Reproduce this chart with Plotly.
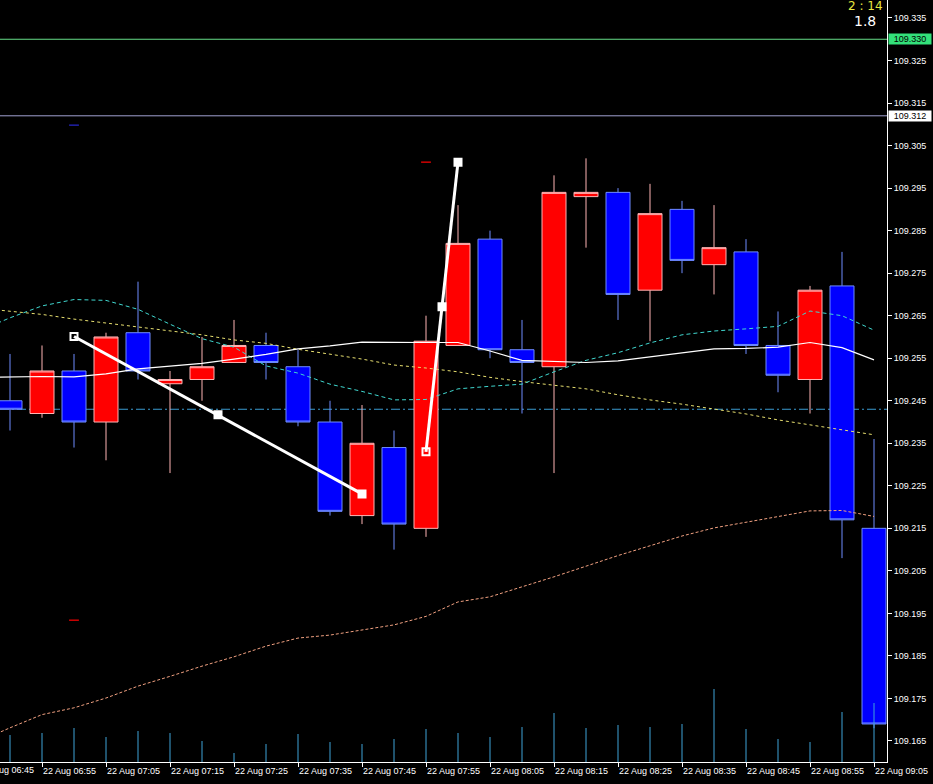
import plotly.graph_objects as go
import pandas as pd

DAY = "2017-08-22 "

# ---- candle data (5-minute bars) ----
times = ["06:50", "06:55", "07:00", "07:05", "07:10", "07:15", "07:20", "07:25",
         "07:30", "07:35", "07:40", "07:45", "07:50", "07:55", "08:00", "08:05",
         "08:10", "08:15", "08:20", "08:25", "08:30", "08:35", "08:40", "08:45",
         "08:50", "08:55", "09:00", "09:05"]
opens = [109.245, 109.242, 109.252, 109.240, 109.261, 109.249, 109.250, 109.254,
         109.258, 109.253, 109.240, 109.218, 109.234, 109.215, 109.258, 109.283,
         109.257, 109.253, 109.293, 109.294, 109.271, 109.290, 109.277, 109.280,
         109.258, 109.250, 109.272, 109.215]
highs = [109.256, 109.258, 109.256, 109.261, 109.273, 109.252, 109.260, 109.264,
         109.261, 109.257, 109.245, 109.244, 109.238, 109.265, 109.291, 109.285,
         109.264, 109.298, 109.302, 109.295, 109.296, 109.292, 109.291, 109.283,
         109.266, 109.272, 109.280, 109.236]
lows = [109.238, 109.241, 109.234, 109.231, 109.250, 109.228, 109.245, 109.254,
        109.250, 109.239, 109.218, 109.216, 109.210, 109.213, 109.258, 109.255,
        109.242, 109.228, 109.281, 109.264, 109.259, 109.275, 109.270, 109.256,
        109.247, 109.242, 109.208, 109.168]
closes = [109.243, 109.252, 109.240, 109.260, 109.252, 109.250, 109.253, 109.258,
          109.254, 109.240, 109.219, 109.235, 109.216, 109.259, 109.282, 109.257,
          109.254, 109.294, 109.294, 109.270, 109.289, 109.278, 109.281, 109.258,
          109.251, 109.271, 109.217, 109.169]
volumes = [54, 58, 68, 50, 62, 58, 42, 18, 36, 56, 40, 36, 46, 66, 58, 50,
           70, 98, 68, 74, 70, 76, 146, 66, 46, 40, 100, 118]

# ---- moving averages (include the off-screen 06:45 bar) ----
ma_times = ["06:45"] + times
ma_white = [109.2505, 109.2506, 109.2507, 109.2506, 109.2513, 109.2525, 109.2532, 109.2538,
            109.2548, 109.2559, 109.2572, 109.2579, 109.2588, 109.2587, 109.2587, 109.2587,
            109.2567, 109.2545, 109.2542, 109.2540, 109.2544, 109.2553, 109.2562, 109.2572,
            109.2573, 109.2576, 109.2587, 109.2575, 109.2546]
ma_cyan = [109.2613, 109.2645, 109.2673, 109.2688, 109.2686, 109.2665, 109.2630, 109.2596,
           109.2576, 109.2532, 109.2515, 109.2489, 109.2472, 109.2452, 109.2453, 109.2478,
           109.2484, 109.2489, 109.2518, 109.2545, 109.2563, 109.2586, 109.2605, 109.2614,
           109.2619, 109.2625, 109.2661, 109.2650, 109.2616]
ma_yellow = [109.2668, 109.2661, 109.2653, 109.2642, 109.2633, 109.2623, 109.2614, 109.2605,
             109.2593, 109.2585, 109.2571, 109.2560, 109.2548, 109.2534, 109.2527, 109.2518,
             109.2505, 109.2495, 109.2487, 109.2478, 109.2464, 109.2452, 109.2442, 109.2431,
             109.2419, 109.2405, 109.2393, 109.2382, 109.2370]
ma_orange = [109.1648, 109.1681, 109.1712, 109.1728, 109.1751, 109.1779, 109.1802, 109.1826,
             109.1848, 109.1873, 109.1892, 109.1899, 109.1911, 109.1923, 109.1943, 109.1977,
             109.1989, 109.2012, 109.2036, 109.2061, 109.2086, 109.2109, 109.2132, 109.2151,
             109.2164, 109.2177, 109.2191, 109.2192, 109.2178]

# ---- trend lines (start, middle, end) ----
trend1_times = ["07:00:00", "07:22:30", "07:45:00"]
trend1_prices = [109.2601, 109.2417, 109.2231]
trend2_times = ["07:55:00", "07:57:30", "08:00:00"]
trend2_prices = [109.2330, 109.2671, 109.3011]

# ---- small markers ----
red_mark_times = ["07:55", "07:00"]
red_mark_prices = [109.3011, 109.1934]
blue_mark_times = ["07:00"]
blue_mark_prices = [109.3098]

# ---- horizontal levels ----
level_green = 109.330
level_grey = 109.312
level_dashdot = 109.243

# ---- axis ticks ----
x_tick_times = ["06:55", "07:05", "07:15", "07:25", "07:35", "07:45", "07:55",
                "08:05", "08:15", "08:25", "08:35", "08:45", "08:55", "09:05"]
x_tick_labels = ["22 Aug " + t for t in x_tick_times]
offscreen_label_time = "06:45"
y_tick0 = 109.165
y_dtick = 0.010

timer_text = "2 : 14"
spread_text = "1.8"

def ts(t):
    return pd.Timestamp(DAY + t)

x = [ts(t) for t in times]
xm = [ts(t) for t in ma_times]

fig = go.Figure()

# candles
fig.add_trace(go.Candlestick(
    x=x, open=opens, high=highs, low=lows, close=closes,
    increasing=dict(line=dict(color="#ffb4b4", width=1), fillcolor="#ff0000"),
    decreasing=dict(line=dict(color="#6f8cff", width=1), fillcolor="#0000ff"),
    whiskerwidth=0, hoverinfo="skip", showlegend=False,
))

# volumes as thin vertical lines on a hidden secondary axis
vx, vy = [], []
for t, v in zip(x, volumes):
    vx += [t, t, None]
    vy += [0, v, None]
fig.add_trace(go.Scatter(x=vx, y=vy, yaxis="y2", mode="lines",
                         line=dict(color="#3fa3d8", width=1),
                         hoverinfo="skip", showlegend=False))

# moving averages
fig.add_trace(go.Scatter(x=xm, y=ma_orange, mode="lines",
                         line=dict(color="#f0a080", width=1, dash="3px,2px"),
                         hoverinfo="skip", showlegend=False))
fig.add_trace(go.Scatter(x=xm, y=ma_yellow, mode="lines",
                         line=dict(color="#e8e070", width=1, dash="3px,3px"),
                         hoverinfo="skip", showlegend=False))
fig.add_trace(go.Scatter(x=xm, y=ma_cyan, mode="lines",
                         line=dict(color="#40d8d0", width=1, dash="4px,3px"),
                         hoverinfo="skip", showlegend=False))
fig.add_trace(go.Scatter(x=xm, y=ma_white, mode="lines",
                         line=dict(color="#ffffff", width=1.2),
                         hoverinfo="skip", showlegend=False))

# trend lines
for tt, pp in [(trend1_times, trend1_prices), (trend2_times, trend2_prices)]:
    fig.add_trace(go.Scatter(
        x=[ts(t) for t in tt], y=pp, mode="lines+markers",
        line=dict(color="#ffffff", width=3),
        marker=dict(symbol=["square-open", "square", "square"], size=7,
                    color="#ffffff", line=dict(color="#ffffff", width=2)),
        hoverinfo="skip", showlegend=False))

# small marks
fig.add_trace(go.Scatter(x=[ts(t) for t in red_mark_times], y=red_mark_prices,
                         mode="markers",
                         marker=dict(symbol="line-ew", size=7,
                                     line=dict(color="#d00000", width=1.5)),
                         hoverinfo="skip", showlegend=False))
fig.add_trace(go.Scatter(x=[ts(t) for t in blue_mark_times], y=blue_mark_prices,
                         mode="markers",
                         marker=dict(symbol="line-ew", size=7,
                                     line=dict(color="#2020a8", width=1.5)),
                         hoverinfo="skip", showlegend=False))

# horizontal levels
fig.add_shape(type="line", xref="paper", x0=0, x1=1, y0=level_green, y1=level_green,
              line=dict(color="#66dd88", width=1), layer="below")
fig.add_shape(type="line", xref="paper", x0=0, x1=1, y0=level_grey, y1=level_grey,
              line=dict(color="#a0a0d0", width=1), layer="below")
fig.add_shape(type="line", xref="paper", x0=0, x1=1, y0=level_dashdot, y1=level_dashdot,
              line=dict(color="#3a9ad0", width=1, dash="9px,3px,2px,3px"), layer="below")

lab_font = dict(family="Liberation Sans, Arial, sans-serif", size=9, color="#ffffff")

# price label boxes on the axis
fig.add_annotation(xref="paper", x=1, xanchor="left", xshift=1, yref="y", y=level_green,
                   text=f"{level_green:.3f}", showarrow=False, bgcolor="#33e07a",
                   font=dict(family=lab_font["family"], size=9, color="#000000"),
                   width=42, height=10, borderpad=0)
fig.add_annotation(xref="paper", x=1, xanchor="left", xshift=1, yref="y", y=level_grey,
                   text=f"{level_grey:.3f}", showarrow=False, bgcolor="#ffffff",
                   font=dict(family=lab_font["family"], size=9, color="#000000"),
                   width=42, height=10, borderpad=0)

# corner texts
fig.add_annotation(xref="paper", yref="paper", x=1, y=1, xanchor="right", yanchor="top",
                   xshift=-2, yshift=3, text=timer_text, showarrow=False,
                   font=dict(family="DejaVu Sans, sans-serif", size=12, color="#e8e840"))
fig.add_annotation(xref="paper", yref="paper", x=1, y=1, xanchor="right", yanchor="top",
                   xshift=-9, yshift=-11, text=spread_text, showarrow=False,
                   font=dict(family="DejaVu Sans, sans-serif", size=14, color="#ffffff"))

# x range: bar spacing of 32 px, first bar centre 10 px from the left edge
bar = pd.Timedelta(minutes=5)
x_lo = x[0] - bar * (10 / 32)
x_hi = x[0] + bar * (877 / 32)

# clipped label of the off-screen tick
frac = (ts(offscreen_label_time) - x_lo) / (x_hi - x_lo)
fig.add_annotation(xref="paper", yref="paper", x=frac, y=0, xanchor="left", yanchor="top",
                   yshift=-1, xshift=1, text="22 Aug " + offscreen_label_time,
                   showarrow=False, font=lab_font)

y_lo, y_hi = 109.16006, 109.33923

fig.update_layout(
    width=933, height=784,
    margin=dict(l=0, r=46, t=0, b=22),
    paper_bgcolor="#000000", plot_bgcolor="#000000",
    boxgap=0.25, boxgroupgap=0,
    showlegend=False,
    xaxis=dict(type="date", range=[x_lo, x_hi], showgrid=False, zeroline=False,
               showline=True, linecolor="#ffffff", linewidth=1,
               ticks="outside", ticklen=4, tickcolor="#ffffff", tickwidth=1,
               tickvals=[ts(t) for t in x_tick_times], ticktext=x_tick_labels,
               ticklabelposition="outside right", tickangle=0, tickfont=lab_font,
               rangeslider=dict(visible=False), fixedrange=True),
    yaxis=dict(side="right", range=[y_lo, y_hi], showgrid=False, zeroline=False,
               showline=True, linecolor="#ffffff", linewidth=1,
               ticks="outside", ticklen=4, tickcolor="#ffffff", tickwidth=1,
               tick0=y_tick0, dtick=y_dtick, tickformat=".3f", tickfont=lab_font,
               fixedrange=True),
    yaxis2=dict(overlaying="y", range=[0, 1524], visible=False, fixedrange=True),
)

fig.write_html("out.html", config={"displayModeBar": False},
               post_script="document.body.style.margin='0';document.body.style.background='#000';")
